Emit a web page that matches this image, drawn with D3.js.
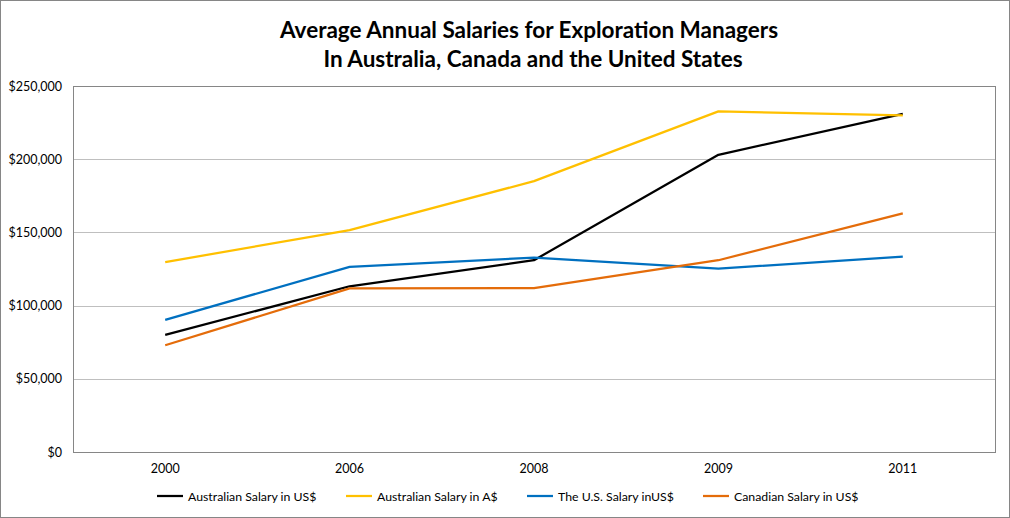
<!DOCTYPE html>
<html>
<head>
<meta charset="utf-8">
<script src="https://cdn.jsdelivr.net/npm/d3@7"></script>
<style>
  body { margin: 0; background: #fff; }
  text { font-family: Lato, "Open Sans", sans-serif; }
</style>
</head>
<body>
<svg id="main-svg" width="1010" height="518"></svg>
<script>
// data
var years = ["2000", "2006", "2008", "2009", "2011"];
var ausUS = [80000, 113200, 131000, 203000, 231000];
var ausAD = [129700, 151600, 185000, 232700, 230000];
var usUS = [90300, 126400, 132800, 125200, 133400];
var canUS = [72900, 111800, 112000, 131000, 163000];
var yTicks = [0, 50000, 100000, 150000, 200000, 250000];

var series = [
  { name: "Australian Salary in US$", values: ausUS, color: "#000000" },
  { name: "Australian Salary in A$", values: ausAD, color: "#FFC000" },
  { name: "The U.S. Salary inUS$", values: usUS, color: "#0070C0" },
  { name: "Canadian Salary in US$", values: canUS, color: "#E46C0A" }
];

var W = 1010, H = 518;
var plot = { left: 73, top: 86, right: 995, bottom: 452 };

var svg = d3.select('#main-svg');

// outer chart border
svg.append('rect')
  .attr('x', 0.5).attr('y', 0.5)
  .attr('width', W - 1).attr('height', H - 1)
  .attr('fill', '#fff').attr('stroke', '#868686');

// title
var title = svg.append('text')
  .attr('text-anchor', 'middle')
  .style('font-weight', 'bold')
  .style('font-size', '22.5px')
  .attr('fill', '#000');
title.append('tspan').attr('x', 529).attr('y', 38).text('Average Annual Salaries for Exploration Managers');
title.append('tspan').attr('x', 533).attr('y', 67).text('In Australia, Canada and the United States');

var x = d3.scalePoint().domain(years).range([plot.left, plot.right]).padding(0.5);
var y = d3.scaleLinear().domain([0, 250000]).range([plot.bottom, plot.top]);

// gridlines
svg.append('g').selectAll('line').data(yTicks.slice(1, -1)).enter().append('line')
  .attr('x1', plot.left).attr('x2', plot.right)
  .attr('y1', d => Math.round(y(d)) + 0.5).attr('y2', d => Math.round(y(d)) + 0.5)
  .attr('stroke', '#bfbfbf').attr('stroke-width', 1);

// plot area border
svg.append('rect')
  .attr('x', plot.left + 0.5).attr('y', plot.top + 0.5)
  .attr('width', plot.right - plot.left).attr('height', plot.bottom - plot.top)
  .attr('fill', 'none').attr('stroke', '#868686');

// y axis labels
var fmt = d3.format('$,');
svg.append('g').selectAll('text').data(yTicks).enter().append('text')
  .attr('x', 62).attr('y', d => y(d) + 4.5)
  .attr('text-anchor', 'end')
  .style('font-size', '12.5px').attr('fill', '#000')
  .text(d => fmt(d));

// x axis labels
svg.append('g').selectAll('text').data(years).enter().append('text')
  .attr('x', d => x(d)).attr('y', 473)
  .attr('text-anchor', 'middle')
  .style('font-size', '12.5px').attr('fill', '#000')
  .text(d => d);

// lines
var line = d3.line().x((d, i) => x(years[i])).y(d => y(d));
svg.append('g').selectAll('path').data(series).enter().append('path')
  .attr('d', d => line(d.values))
  .attr('fill', 'none')
  .attr('stroke', d => d.color)
  .attr('stroke-width', 2.25)
  .attr('stroke-linejoin', 'round');

// legend
var legendX = [157, 346, 527, 703];
var leg = svg.append('g').selectAll('g').data(series).enter().append('g')
  .attr('transform', (d, i) => `translate(${legendX[i]}, 496)`);
leg.append('line')
  .attr('x1', 0).attr('x2', 26).attr('y1', 0).attr('y2', 0)
  .attr('stroke', d => d.color).attr('stroke-width', 2.25);
leg.append('text')
  .attr('x', 31).attr('y', 4.5)
  .style('font-size', '12.3px').attr('fill', '#000')
  .text(d => d.name);
</script>
</body>
</html>
